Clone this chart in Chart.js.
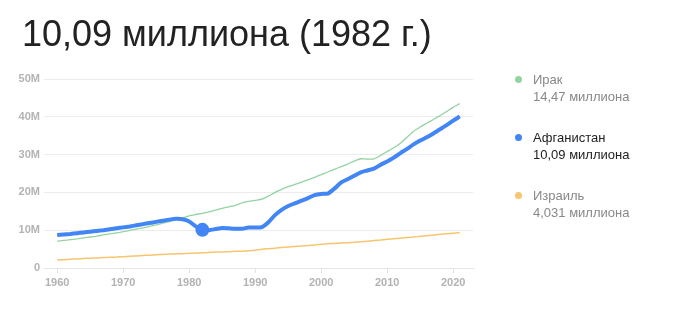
<!DOCTYPE html>
<html><head><meta charset="utf-8">
<script src="https://cdn.jsdelivr.net/npm/chart.js@4.4.0/dist/chart.umd.min.js"></script>
<style>
html,body{margin:0;padding:0;background:#fff;width:686px;height:323px;overflow:hidden;font-family:"Liberation Sans",Arial,sans-serif;}
#title{position:absolute;left:22px;top:13px;font-size:36px;color:#222;white-space:nowrap;}
#wrap{position:absolute;left:0;top:0;width:686px;height:323px;}
#legend{position:absolute;left:512px;top:71px;font-size:13px;line-height:17px;}
.item{position:relative;padding-left:21px;height:58px;color:#888;}
.item.active{color:#222;}
.dot{position:absolute;left:3px;top:5px;width:7px;height:7px;border-radius:50%;}
</style></head>
<body>
<div id="wrap"><canvas id="c" width="686" height="323"></canvas></div>
<div id="title">10,09 миллиона (1982 г.)</div>
<div id="legend"></div>
<script>
const years = [];
for (let y = 1960; y <= 2021; y++) years.push(y);

const seriesNames = ["Ирак", "Афганистан", "Израиль"];
const seriesLabels = ["14,47 миллиона", "10,09 миллиона", "4,031 миллиона"];
const seriesColors = ["#93d3a2", "#4285f4", "#f7c56e"];

const iraq = [7.1,7.3,7.5,7.7,7.95,8.2,8.45,8.75,9.0,9.3,9.6,9.95,10.3,10.6,11.0,11.4,11.85,12.3,12.8,13.3,13.8,14.15,14.47,14.85,15.3,15.8,16.2,16.6,17.2,17.6,17.9,18.2,19.0,20.0,20.8,21.5,22.1,22.7,23.3,24.0,24.7,25.4,26.1,26.8,27.5,28.3,28.9,28.8,28.9,29.8,30.8,31.8,33.0,34.6,36.2,37.3,38.3,39.3,40.3,41.4,42.5,43.5];
const afghanistan = [8.7,8.85,9.0,9.2,9.4,9.6,9.8,10.0,10.25,10.5,10.75,11.0,11.3,11.6,11.9,12.2,12.5,12.8,13.0,12.9,12.3,11.0,10.09,10.0,10.3,10.6,10.5,10.4,10.4,10.7,10.7,10.8,12.1,14.0,15.4,16.4,17.1,17.8,18.5,19.3,19.6,19.7,21.0,22.6,23.5,24.4,25.3,25.8,26.3,27.3,28.2,29.2,30.4,31.5,32.7,33.7,34.6,35.6,36.7,37.8,39.0,40.1];
const israel = [2.1,2.2,2.3,2.4,2.5,2.6,2.65,2.75,2.85,2.9,3.0,3.1,3.2,3.3,3.4,3.5,3.6,3.7,3.75,3.8,3.9,3.95,4.03,4.1,4.2,4.25,4.3,4.4,4.45,4.55,4.7,4.95,5.1,5.25,5.4,5.55,5.7,5.85,5.95,6.1,6.3,6.4,6.5,6.6,6.7,6.8,6.95,7.1,7.25,7.4,7.6,7.75,7.9,8.05,8.2,8.4,8.55,8.7,8.9,9.05,9.2,9.37];

const yTicks = [0,10,20,30,40,50];
const xTicks = [1960,1970,1980,1990,2000,2010,2020];
const highlightYear = 1982;

const toPts = arr => arr.map((v,i)=>({x:years[i], y:v*1e6}));

// legend
const leg = document.getElementById('legend');
seriesNames.forEach((n,i)=>{
  const d = document.createElement('div');
  d.className = 'item' + (i===1?' active':'');
  d.innerHTML = '<span class="dot" style="background:'+seriesColors[i]+'"></span>'+n+'<br>'+seriesLabels[i];
  leg.appendChild(d);
});

const tickFont = {family:"'Liberation Sans', Arial, sans-serif", size:11, weight:'bold'};
new Chart(document.getElementById('c'), {
  type:'line',
  data:{datasets:[
    {label:seriesNames[1], data:toPts(afghanistan), borderColor:seriesColors[1], backgroundColor:seriesColors[1], borderWidth:4, tension:0.2,
     pointRadius:years.map(y=>y===highlightYear?5:0), pointHoverRadius:0, order:0},
    {label:seriesNames[0], data:toPts(iraq), borderColor:seriesColors[0], borderWidth:1.3, pointRadius:0, tension:0.2, order:1},
    {label:seriesNames[2], data:toPts(israel), borderColor:seriesColors[2], borderWidth:1.5, pointRadius:0, tension:0.2, order:2}
  ]},
  options:{
    responsive:false, animation:false, events:[],
    layout:{padding:{top:79,right:213,bottom:0,left:0}},
    plugins:{legend:{display:false}, tooltip:{enabled:false}},
    scales:{
      x:{type:'linear', min:1958, max:2023,
        afterBuildTicks:s=>{s.ticks = xTicks.map(v=>({value:v}));},
        afterFit:s=>{s.height=55;},
        grid:{drawOnChartArea:false, drawTicks:true, tickLength:5, color:'#e3e3e3'},
        border:{color:'#e6e6e6', width:1},
        ticks:{callback:v=>String(v), color:'#b3b3b3', font:tickFont, padding:3, maxRotation:0}
      },
      y:{min:0, max:50e6,
        afterBuildTicks:s=>{s.ticks = yTicks.map(v=>({value:v*1e6}));},
        afterFit:s=>{s.width=44;},
        grid:{drawTicks:false, color:'#ececec'},
        border:{display:false},
        ticks:{callback:v=>v===0?'0':(v/1e6)+'M', color:'#b3b3b3', font:tickFont, padding:4}
      }
    }
  }
});
</script>
</body></html>
